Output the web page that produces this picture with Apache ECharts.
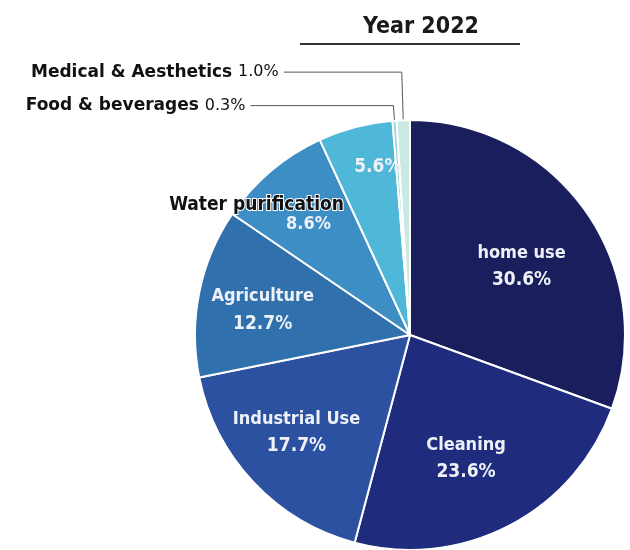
<!DOCTYPE html>
<html>
<head>
<meta charset="utf-8">
<script src="https://cdn.jsdelivr.net/npm/echarts@6/dist/echarts.min.js"></script>
<style>
  html, body { margin: 0; padding: 0; background: #fff; }
  #chart { width: 630px; height: 550px; }
</style>
</head>
<body>
<div id="chart"></div>
<script>
// Usage shares, 2022 (percent), clockwise from 12 o'clock
const categories = ['home use', 'Cleaning', 'Industrial Use', 'Agriculture',
  'Water purification', 'Other', 'Food & beverages', 'Medical & Aesthetics'];
const shares = [30.6, 23.6, 17.7, 12.7, 8.6, 5.6, 0.3, 1.0];
const sliceColors = ['#1b1e5d', '#1f2b7d', '#2b51a0', '#3070ac', '#3c8ec4',
  '#4fb7d7', '#93d6da', '#cbe9e3'];
const titleText = 'Year 2022';

const FONT = "'Liberation Sans Narrow', 'DejaVu Sans Condensed', 'Noto Sans CJK JP', sans-serif";
const WIDE = "'DejaVu Sans', 'Liberation Sans', sans-serif";

// Nudges for the labels drawn inside the slices
const insideShift = [
  [21, -5], [5, 26], [-33, 22], [-39, -3], [-82, -36], [-4, -61]
];

function fmt(v) { return v.toFixed(1) + '%'; }

const data = categories.map(function (name, i) {
  const item = { name: name, value: shares[i], itemStyle: { color: sliceColors[i] } };
  if (i < 4) {
    item.label = { formatter: '{n|' + name + '}\n{v|' + fmt(shares[i]) + '}' };
  } else if (i === 4) {
    item.label = { formatter: '{d|' + name + '}\n{p|' + fmt(shares[i]) + '}' };
  } else if (i === 5) {
    item.label = { formatter: '{v|' + fmt(shares[i]) + '}' };
  } else {
    const isFood = name.indexOf('Food') === 0;
    item.label = {
      position: 'outside',
      formatter: '{o|' + name + ' }{ov|' + fmt(shares[i]) + '}'
    };
    item.labelLine = {
      show: true,
      length: isFood ? 15 : 48,
      length2: isFood ? 143 : 118,
      lineStyle: { color: '#555', width: 1 }
    };
  }
  return item;
});

const chart = echarts.init(document.getElementById('chart'));
chart.setOption({
  backgroundColor: '#ffffff',
  animation: false,
  title: {
    text: titleText,
    left: 416,
    top: 11,
    textAlign: 'center',
    textStyle: { fontFamily: FONT, fontSize: 23, fontWeight: 'bold', color: '#1a1a1a' }
  },
  graphic: [{
    type: 'line',
    shape: { x1: 300, y1: 44, x2: 520, y2: 44 },
    style: { stroke: '#333', lineWidth: 2 }
  }],
  series: [{
    type: 'pie',
    center: [410, 335],
    radius: 215,
    startAngle: 90,
    clockwise: true,
    avoidLabelOverlap: false,
    itemStyle: { borderColor: '#ffffff', borderWidth: 2 },
    label: {
      show: true,
      position: 'inside',
      fontFamily: FONT,
      lineHeight: 26,
      rich: {
        n: { fontFamily: FONT, fontSize: 18, fontWeight: 'bold', color: '#eef2f8', lineHeight: 27 },
        v: { fontFamily: FONT, fontSize: 19, fontWeight: 'bold', color: '#eef2f8', lineHeight: 27 },
        d: { fontFamily: FONT, fontSize: 19, fontWeight: 'bold', color: '#111',
             textBorderColor: '#ffffff', textBorderWidth: 2, lineHeight: 20 },
        p: { fontFamily: FONT, fontSize: 18, fontWeight: 'bold', color: '#eef2f8',
             padding: [0, 0, 0, 104], lineHeight: 20 },
        o: { fontFamily: WIDE, fontSize: 17, fontWeight: 'bold', color: '#111' },
        ov: { fontFamily: WIDE, fontSize: 16, fontWeight: 'normal', color: '#111' }
      }
    },
    labelLine: { show: false },
    labelLayout: function (params) {
      const i = params.dataIndex;
      if (i < insideShift.length) {
        return { dx: insideShift[i][0], dy: insideShift[i][1] };
      }
      return {};
    },
    data: data
  }]
});
</script>
</body>
</html>
